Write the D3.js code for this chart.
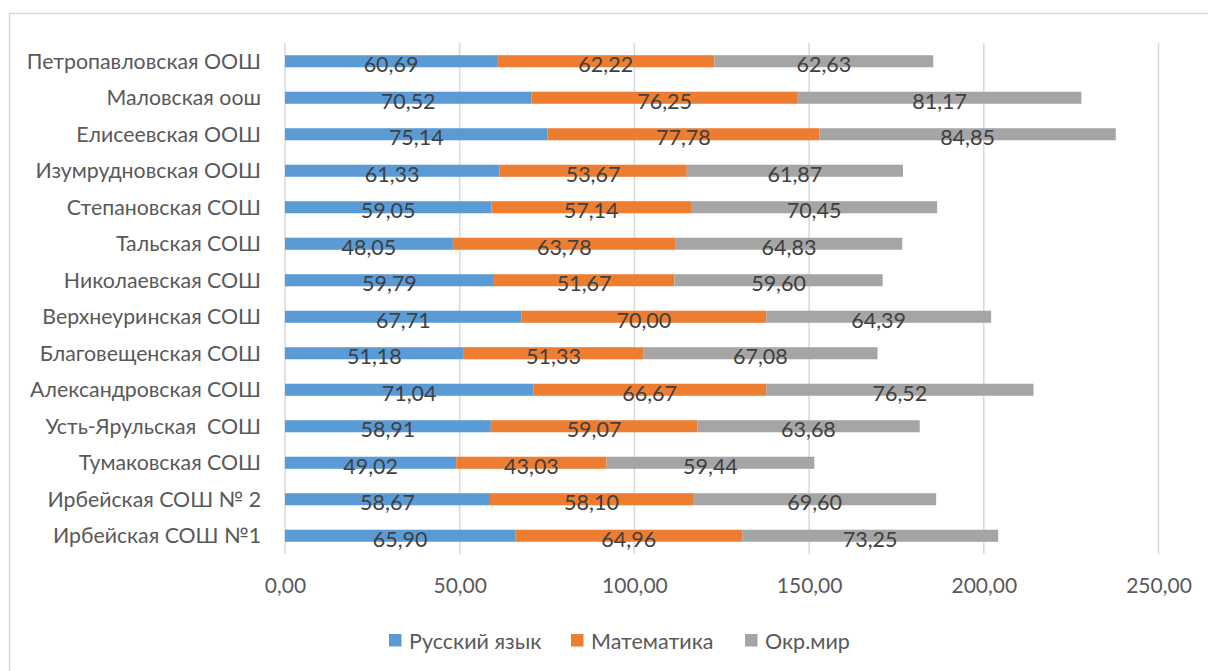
<!DOCTYPE html>
<html><head><meta charset="utf-8">
<script src="https://cdn.jsdelivr.net/npm/d3@7"></script>
<style>body{margin:0;background:#fff}svg{display:block}text{font-family:Lato,"Open Sans",sans-serif;white-space:pre}</style>
</head><body><div id="c"></div>
<script>
const categories = ["Петропавловская ООШ","Маловская оош","Елисеевская ООШ","Изумрудновская ООШ","Степановская СОШ","Тальская СОШ","Николаевская СОШ","Верхнеуринская СОШ","Благовещенская СОШ","Александровская СОШ","Усть-Ярульская  СОШ","Тумаковская СОШ","Ирбейская СОШ № 2","Ирбейская СОШ №1"];
const russian = [60.69,70.52,75.14,61.33,59.05,48.05,59.79,67.71,51.18,71.04,58.91,49.02,58.67,65.90];
const math = [62.22,76.25,77.78,53.67,57.14,63.78,51.67,70.00,51.33,66.67,59.07,43.03,58.10,64.96];
const world = [62.63,81.17,84.85,61.87,70.45,64.83,59.60,64.39,67.08,76.52,63.68,59.44,69.60,73.25];
const seriesNames = ["Русский язык","Математика","Окр.мир"];
const colors = ["#5B9BD5","#ED7D31","#A5A5A5"];
const ticks = [0,50,100,150,200,250];

const W=1208,H=671;
const svg=d3.select("#c").append("svg").attr("width",W).attr("height",H);
svg.append("rect").attr("x",9.5).attr("y",13.5).attr("width",1230).attr("height",700).attr("fill","none").attr("stroke","#D9D9D9").attr("stroke-width",1.5);

const x=d3.scaleLinear().domain([0,250]).range([285,1158.5]);
const y=d3.scaleBand().domain(categories).range([43,554]).paddingInner(0.67).paddingOuter(0.335);

// gridlines
svg.append("g").selectAll("line").data(ticks).join("line")
  .attr("x1",d=>x(d)).attr("x2",d=>x(d)).attr("y1",43).attr("y2",554)
  .attr("stroke","#D9D9D9").attr("stroke-width",1.5);

const table=categories.map((c,i)=>({cat:c,s0:russian[i],s1:math[i],s2:world[i]}));
const stack=d3.stack().keys(["s0","s1","s2"])(table);

const g=svg.append("g");
stack.forEach((layer,k)=>{
  g.append("g").selectAll("rect").data(layer).join("rect")
    .attr("x",d=>x(d[0])).attr("width",d=>x(d[1])-x(d[0]))
    .attr("y",d=>y(d.data.cat)).attr("height",y.bandwidth())
    .attr("fill",colors[k]);
});
stack.forEach((layer,k)=>{
  g.append("g").selectAll("text").data(layer).join("text")
    .attr("x",d=>(x(d[0])+x(d[1]))/2).attr("y",d=>y(d.data.cat)+y.bandwidth()/2+3)
    .attr("text-anchor","middle").attr("dominant-baseline","central")
    .attr("font-size",21.5).attr("fill","#404040")
    .text(d=>(d[1]-d[0]).toFixed(2).replace(".",","));
});

// y axis labels
const yAxis=d3.axisLeft(y).tickSize(0).tickPadding(24);
const ya=svg.append("g").attr("transform","translate(285,0)").call(yAxis);
ya.select(".domain").remove();
ya.selectAll("text").attr("font-size",21.3).attr("fill","#595959").attr("font-family","Lato").attr("dy","0.35em").style("white-space","pre");

// x axis labels
const xAxis=d3.axisBottom(x).tickValues(ticks).tickSize(0).tickPadding(0).tickFormat(d=>d.toFixed(2).replace(".",","));
const xa=svg.append("g").attr("transform","translate(0,586)").call(xAxis);
xa.select(".domain").remove();
xa.selectAll("text").attr("font-size",21).attr("fill","#595959").attr("font-family","Lato").attr("dy","0.35em");

// legend
const legX=[389,571,745];
const leg=svg.append("g");
seriesNames.forEach((n,i)=>{
  leg.append("rect").attr("x",legX[i]).attr("y",634).attr("width",12.5).attr("height",12.5).attr("fill",colors[i]);
  leg.append("text").attr("x",legX[i]+20).attr("y",640.5).attr("dominant-baseline","central")
    .attr("font-size",21.5).attr("fill","#595959").text(n);
});
</script></body></html>
